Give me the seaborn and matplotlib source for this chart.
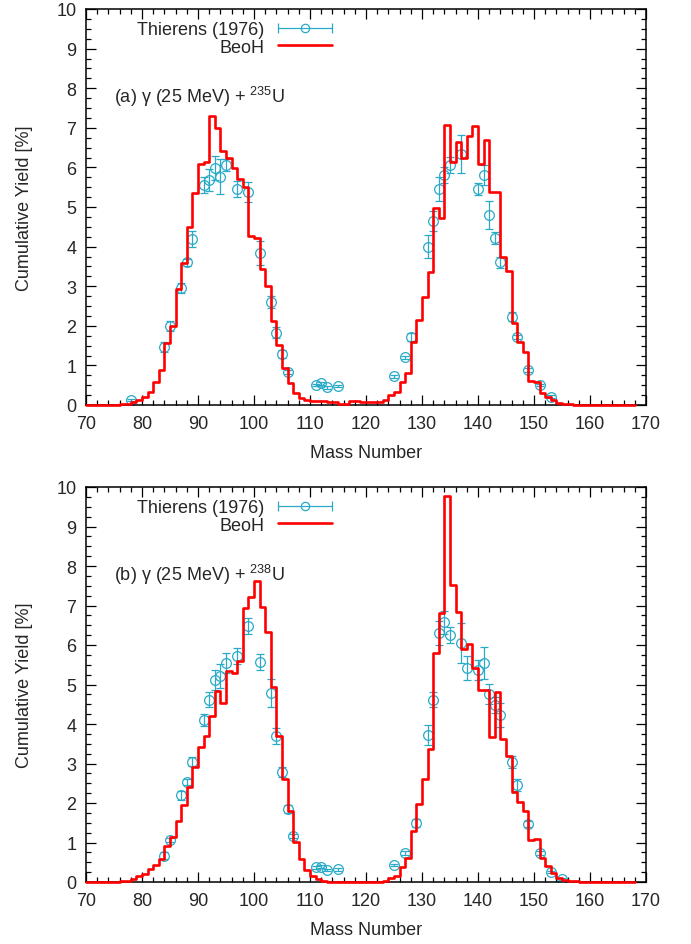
import numpy as np
import matplotlib
matplotlib.use("Agg")
import matplotlib.pyplot as plt
import seaborn as sns
from matplotlib.lines import Line2D
from matplotlib.legend_handler import HandlerLine2D, HandlerTuple
from matplotlib.ticker import MultipleLocator

# mass number grid (left edge of each one-unit bin)
mass = np.arange(70, 169)

# BeoH calculated cumulative yields [%], gamma(25 MeV) + U-235
beoh_235 = [
    0.0, 0.0, 0.0, 0.0, 0.005, 0.01, 0.02, 0.03, 0.08, 0.13,
    0.21, 0.34, 0.59, 0.89, 1.57, 2.0, 2.93, 3.59, 4.5, 5.35,
    6.09, 6.13, 7.29, 6.99, 6.42, 6.23, 5.98, 5.71, 5.5, 4.28,
    4.22, 3.44, 3.0, 2.13, 1.52, 0.94, 0.56, 0.31, 0.18, 0.13,
    0.11, 0.10, 0.10, 0.08, 0.07, 0.03, 0.03, 0.09, 0.09, 0.08,
    0.08, 0.08, 0.08, 0.12, 0.26, 0.32, 0.57, 0.81, 1.58, 2.15,
    2.72, 3.35, 4.97, 4.71, 7.07, 6.13, 6.65, 6.23, 6.8, 7.05,
    6.09, 6.68, 5.39, 5.39, 3.75, 3.39, 2.07, 1.58, 1.33, 0.6,
    0.58, 0.3, 0.19, 0.12, 0.05, 0.03, 0.02, 0.01, 0.005, 0.0,
    0.0, 0.0, 0.0, 0.0, 0.0, 0.0, 0.0, 0.0, 0.0,
]

# BeoH calculated cumulative yields [%], gamma(25 MeV) + U-238
beoh_238 = [
    0.0, 0.0, 0.0, 0.0, 0.0, 0.01, 0.02, 0.03, 0.08, 0.14,
    0.21, 0.32, 0.43, 0.58, 0.92, 1.13, 1.54, 1.95, 2.4, 2.9,
    3.43, 3.7, 4.21, 4.83, 4.53, 5.33, 5.29, 5.6, 6.93, 7.21,
    7.61, 6.95, 6.34, 4.93, 3.69, 2.61, 1.81, 1.02, 0.57, 0.31,
    0.14, 0.08, 0.03, 0.01, 0.01, 0.01, 0.01, 0.01, 0.01, 0.01,
    0.01, 0.01, 0.01, 0.02, 0.09, 0.16, 0.37, 0.6, 1.3, 1.98,
    2.62, 3.37, 5.79, 6.8, 9.76, 7.52, 6.84, 5.9, 6.03, 5.41,
    4.86, 4.86, 3.68, 4.82, 3.62, 3.18, 2.29, 2.03, 1.81, 1.07,
    1.09, 0.62, 0.4, 0.23, 0.11, 0.06, 0.03, 0.02, 0.01, 0.005,
    0.0, 0.0, 0.0, 0.0, 0.0, 0.0, 0.0, 0.0, 0.0,
]

# Thierens (1976) measurements, U-235
exp_a_mass = [78, 84, 85, 87, 88, 89, 91, 92, 93, 94, 95, 97, 99, 101, 103, 104, 105, 106,
              111, 112, 113, 115, 125, 127, 128, 131, 132, 133, 134, 135, 137, 140, 141,
              142, 143, 144, 146, 147, 149, 151, 153]
exp_a_yield = [0.13, 1.46, 2.0, 2.95, 3.6, 4.19, 5.56, 5.68, 5.98, 5.77, 6.06, 5.45, 5.37, 3.84,
               2.6, 1.83, 1.29, 0.84, 0.5, 0.55, 0.45, 0.48, 0.72, 1.2, 1.71, 4.0, 4.65, 5.45,
               5.81, 6.06, 6.34, 5.45, 5.81, 4.8, 4.21, 3.6, 2.23, 1.71, 0.89, 0.5, 0.21]
exp_a_err = [0.03, 0.12, 0.12, 0.12, 0.08, 0.2, 0.2, 0.28, 0.3, 0.45, 0.15, 0.2, 0.25, 0.3,
             0.15, 0.15, 0.1, 0.05, 0.03, 0.04, 0.04, 0.03, 0.05, 0.04, 0.1, 0.3, 0.25, 0.3,
             0.2, 0.2, 0.48, 0.15, 0.25, 0.35, 0.15, 0.15, 0.12, 0.05, 0.05, 0.03, 0.03]

# Thierens (1976) measurements, U-238
exp_b_mass = [84, 85, 87, 88, 89, 91, 92, 93, 94, 95, 97, 99, 101, 103, 104, 105, 106, 107,
              111, 112, 113, 115, 125, 127, 129, 131, 132, 133, 134, 135, 137, 138, 140, 141,
              142, 143, 144, 146, 147, 149, 151, 153, 155]
exp_b_yield = [0.67, 1.06, 2.19, 2.54, 3.05, 4.1, 4.62, 5.11, 5.21, 5.54, 5.73, 6.49, 5.56, 4.78,
               3.69, 2.79, 1.85, 1.16, 0.37, 0.39, 0.31, 0.32, 0.43, 0.73, 1.49, 3.72, 4.62,
               6.3, 6.57, 6.26, 6.05, 5.41, 5.37, 5.54, 4.76, 4.49, 4.23, 3.03, 2.46, 1.47,
               0.73, 0.26, 0.08]
exp_b_err = [0.1, 0.05, 0.12, 0.08, 0.12, 0.15, 0.2, 0.25, 0.3, 0.25, 0.2, 0.2, 0.2, 0.35,
             0.2, 0.12, 0.1, 0.05, 0.03, 0.03, 0.03, 0.03, 0.03, 0.05, 0.1, 0.25, 0.2, 0.3,
             0.3, 0.2, 0.5, 0.3, 0.25, 0.4, 0.25, 0.2, 0.3, 0.15, 0.15, 0.08, 0.05, 0.03, 0.02]

labels = ["(a) γ (25 MeV) + $^{235}$U", "(b) γ (25 MeV) + $^{238}$U"]

sns.set_theme(style="ticks")
plt.rcParams["font.family"] = ["Liberation Sans", "DejaVu Sans"]
plt.rcParams["mathtext.fontset"] = "custom"
plt.rcParams["mathtext.rm"] = "Liberation Sans"
plt.rcParams["font.size"] = 13

cyan = "#29aac8"
red = "#ff0000"

fig = plt.figure(figsize=(6.91, 9.45), dpi=100)
ax1 = fig.add_axes([86 / 691, 1 - 406 / 945, 560 / 691, 396 / 945])
ax2 = fig.add_axes([86 / 691, 1 - 883 / 945, 560 / 691, 395 / 945])

panels = [
    (ax1, beoh_235, exp_a_mass, exp_a_yield, exp_a_err, labels[0]),
    (ax2, beoh_238, exp_b_mass, exp_b_yield, exp_b_err, labels[1]),
]

for ax, calc, em, ey, ee, lab in panels:
    ax.errorbar(em, ey, yerr=ee, fmt="o", color=cyan, mfc="none", mec=cyan,
                markersize=7, mew=0.9, elinewidth=0.9, capsize=3, capthick=0.9, zorder=2)
    sns.lineplot(x=mass, y=calc, ax=ax, color=red, lw=1.9, drawstyle="steps-post",
                 estimator=None, sort=False, zorder=3, clip_on=False)

    ax.set_xlim(70, 170)
    ax.set_ylim(0, 10)
    ax.xaxis.set_major_locator(MultipleLocator(10))
    ax.xaxis.set_minor_locator(MultipleLocator(2))
    ax.yaxis.set_major_locator(MultipleLocator(1))
    ax.yaxis.set_minor_locator(MultipleLocator(0.25))
    ax.tick_params(which="both", direction="in", top=True, right=True,
                   width=0.9, color="black", labelsize=13, pad=7)
    ax.tick_params(which="major", length=7)
    ax.tick_params(which="minor", length=3.5)
    for sp in ax.spines.values():
        sp.set_linewidth(1.1)
        sp.set_color("black")
    ax.set_xlabel("Mass Number", fontsize=13, labelpad=9)
    ax.set_ylabel("Cumulative Yield [%]", fontsize=13, labelpad=17)

    ax.text(0.05, 0.78, lab, transform=ax.transAxes, fontsize=13, va="center", ha="left")

    bar_h = Line2D([], [], color=cyan, lw=0.9, marker="|", markersize=7, mew=0.9)
    dot_h = Line2D([], [], color=cyan, ls="none", marker="o", mfc="none",
                   markersize=6, mew=0.9)
    red_h = Line2D([], [], color=red, lw=1.9)
    ax.legend([(bar_h, dot_h), red_h], ["Thierens (1976)", "BeoH"],
              handler_map={bar_h: HandlerLine2D(numpoints=2, marker_pad=0),
                           tuple: HandlerTuple(ndivide=1, pad=0)},
              markerfirst=False, frameon=False, loc="upper right",
              bbox_to_anchor=(0.44, 0.97), handlelength=3.0, handletextpad=0.75,
              labelspacing=0.05, borderpad=0, borderaxespad=0, fontsize=13)

fig.savefig("out.png", dpi=100)
